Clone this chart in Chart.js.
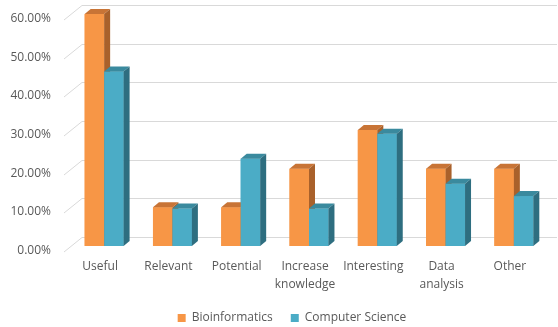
<!DOCTYPE html>
<html>
<head>
<meta charset="utf-8">
<script src="https://cdn.jsdelivr.net/npm/chart.js@4.4.0/dist/chart.umd.min.js"></script>
<style>
    html, body { margin: 0; padding: 0; background: #ffffff; }
    #wrap { width: 558px; height: 327px; }
</style>
</head>
<body>
<div id="wrap"><canvas id="chart" width="558" height="327"></canvas></div>
<script>
// categories and shares (percent of respondents)
const categories = ['Useful', 'Relevant', 'Potential', ['Increase', 'knowledge'], 'Interesting', ['Data', 'analysis'], 'Other'];
const bioinformatics = [60.00, 10.00, 10.00, 20.00, 30.00, 20.00, 20.00];
const computerScience = [45.16, 9.68, 22.58, 9.68, 29.03, 16.13, 12.90];
const yTicks = [0, 10, 20, 30, 40, 50, 60];

const textColor = '#595959';
const font = { family: "'Open Sans', 'Liberation Sans', sans-serif", size: 12 };

// front / top / side shades for each series
const shades = [
    { front: '#F79646', top: '#C87436', side: '#A9612B' },
    { front: '#4BACC6', top: '#3A8A9E', side: '#2E6E80' }
];

// depth of a bar and of the floor/back wall, in px
const BAR_DX = 6, BAR_DY = -5;
const WALL_DX = 12, WALL_DY = -9;
const FLOOR_FRONT_DY = 5.5;

const pseudo3d = {
    id: 'pseudo3d',
    afterLayout(chart) {
        // legend sits a little right of the default spot
        const lg = chart.legend;
        lg.left += 18; lg.right += 18;
        lg.top -= 2; lg.bottom -= 2;
    },
    beforeDatasetsDraw(chart) {
        const { ctx, chartArea, scales: { y } } = chart;
        ctx.save();
        ctx.strokeStyle = '#D9D9D9';
        ctx.lineWidth = 1;
        y.ticks.forEach(t => {
            const py = Math.round(y.getPixelForValue(t.value)) + 0.5;
            const backX = chartArea.left + WALL_DX;
            ctx.beginPath();
            ctx.moveTo(chartArea.left - 6, py + FLOOR_FRONT_DY);
            ctx.lineTo(backX, py + WALL_DY);
            ctx.lineTo(557, py + WALL_DY);
            ctx.stroke();
        });
        ctx.restore();
    },
    afterDatasetsDraw(chart) {
        const { ctx } = chart;
        ctx.save();
        const n = chart.data.labels.length;
        for (let i = 0; i < n; i++) {
            chart.data.datasets.forEach((ds, di) => {
                const bar = chart.getDatasetMeta(di).data[i];
                const c = shades[di];
                const l = bar.x - bar.width / 2, r = bar.x + bar.width / 2;
                const t = bar.y, b = bar.base;

                ctx.fillStyle = c.front;
                ctx.fillRect(l, t, r - l, b - t);

                ctx.fillStyle = c.top;
                ctx.beginPath();
                ctx.moveTo(l, t);
                ctx.lineTo(l + BAR_DX, t + BAR_DY);
                ctx.lineTo(r + BAR_DX, t + BAR_DY);
                ctx.lineTo(r, t);
                ctx.closePath();
                ctx.fill();

                ctx.fillStyle = c.side;
                ctx.beginPath();
                ctx.moveTo(r, t);
                ctx.lineTo(r + BAR_DX, t + BAR_DY);
                ctx.lineTo(r + BAR_DX, b + BAR_DY);
                ctx.lineTo(r, b);
                ctx.closePath();
                ctx.fill();
            });
        }
        ctx.restore();
    }
};

new Chart(document.getElementById('chart'), {
    type: 'bar',
    data: {
        labels: categories,
        datasets: [
            { label: 'Bioinformatics', data: bioinformatics, backgroundColor: shades[0].front },
            { label: 'Computer Science', data: computerScience, backgroundColor: shades[1].front }
        ]
    },
    options: {
        responsive: false,
        animation: false,
        layout: { padding: { top: 14, right: 10, left: 0, bottom: -9 } },
        datasets: { bar: { categoryPercentage: 0.57, barPercentage: 1.0 } },
        scales: {
            x: {
                grid: { display: false, drawTicks: false },
                border: { display: false },
                afterFit(scale) {
                    scale.height = 50;
                    scale.paddingLeft = 0;
                    scale.paddingRight = 0;
                },
                ticks: {
                    color: textColor,
                    font: { ...font, lineHeight: '18px' },
                    padding: 12,
                    labelOffset: -4,
                    maxRotation: 0,
                    autoSkip: false
                }
            },
            y: {
                min: 0,
                max: 60,
                grid: { display: false, drawTicks: false },
                border: { display: false },
                afterFit(scale) {
                    scale.width = 70;
                    scale.paddingTop = 0;
                    scale.paddingBottom = 0;
                },
                afterBuildTicks(scale) { scale.ticks = yTicks.map(v => ({ value: v })); },
                ticks: {
                    color: textColor,
                    font: font,
                    padding: 19,
                    labelOffset: 4.5,
                    callback: v => v.toFixed(2) + '%'
                }
            }
        },
        plugins: {
            legend: {
                position: 'bottom',
                labels: {
                    color: textColor,
                    font: font,
                    boxWidth: 8,
                    boxHeight: 8,
                    padding: 18
                }
            },
            tooltip: { enabled: false }
        }
    },
    plugins: [pseudo3d]
});
</script>
</body>
</html>
